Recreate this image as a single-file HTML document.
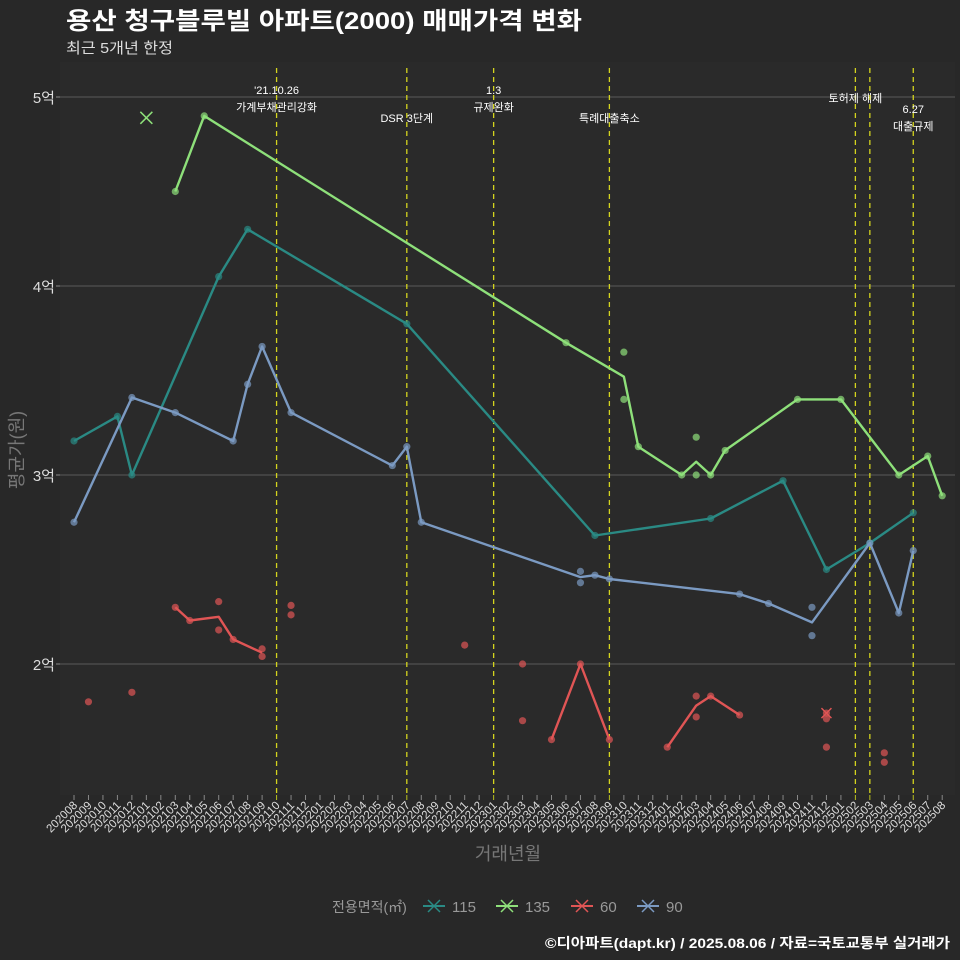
<!DOCTYPE html>
<html><head><meta charset="utf-8">
<style>
html,body{margin:0;padding:0;background:#282828;}
svg{display:block;font-family:"Liberation Sans","Noto Sans CJK KR",sans-serif;}
</style></head>
<body>
<svg id="chart" width="960" height="960" viewBox="0 0 960 960" xmlns="http://www.w3.org/2000/svg">
<rect x="0" y="0" width="960" height="960" fill="#282828"/>
<rect x="60" y="62" width="895" height="733" fill="#2a2a2a"/>
<text x="66" y="29" fill="#ffffff" font-size="24" font-weight="bold" textLength="516" lengthAdjust="spacingAndGlyphs">용산 청구블루빌 아파트(2000) 매매가격 변화</text>
<text x="66" y="53" fill="#dddddd" font-size="15" textLength="107" lengthAdjust="spacingAndGlyphs">최근 5개년 한정</text>
<text transform="translate(23,450) rotate(-90)" text-anchor="middle" fill="#777" font-size="18">평균가(원)</text>
<text x="508" y="860" text-anchor="middle" fill="#777" font-size="18">거래년월</text>
<g id="grid"></g>
<g id="vlines"></g>
<g id="series"></g>
<g id="xaxis"></g>
<g id="legend">
<text x="332" y="912" fill="#999" font-size="14">전용면적(㎡)</text>
</g>
<text x="950" y="948" text-anchor="end" fill="#ffffff" font-size="14" font-weight="bold" textLength="405" lengthAdjust="spacingAndGlyphs">©디아파트(dapt.kr) / 2025.08.06 / 자료=국토교통부 실거래가</text>
</svg>
<script>
// months from 202008 to 202508
const startYear = 2020, startMonth = 8, monthCount = 61;
const yTicks = [2, 3, 4, 5];
const yTickLabels = ['2억', '3억', '4억', '5억'];
const seriesNames = ['115', '135', '60', '90'];
const seriesColors = ['#2a8a84', '#8ee07a', '#e05555', '#7b9ac2'];
// line points [monthIndex, value(억)], null = break
const line115 = [[0,3.18],[3,3.31],[4,3.00],[10,4.05],[12,4.30],[23,3.80],[36,2.68],[44,2.77],[49,2.97],[52,2.50],[55,2.64],[58,2.80]];
const line135 = [[7,4.50],[9,4.90],[34,3.70],[38,3.52],[39,3.15],[42,3.00],[43,3.07],[44,3.00],[45,3.13],[50,3.40],[53,3.40],[57,3.00],[59,3.10],[60,2.89]];
const line60 = [[7,2.30],[8,2.23],[10,2.25],[11,2.13],[13,2.06],null,[33,1.60],[35,2.00],[37,1.60],null,[41,1.56],[43,1.78],[44,1.83],[46,1.73]];
const line90 = [[0,2.75],[4,3.41],[7,3.33],[11,3.18],[12,3.48],[13,3.68],[15,3.33],[22,3.05],[23,3.15],[24,2.75],[35,2.46],[36,2.47],[37,2.45],[46,2.37],[48,2.32],[51,2.22],[55,2.64],[57,2.27],[58,2.60]];
// scatter points (individual trades)
const pts115 = [[0,3.18],[3,3.31],[4,3.00],[10,4.05],[12,4.30],[23,3.80],[36,2.68],[44,2.77],[49,2.97],[52,2.50],[55,2.64],[58,2.80]];
const pts135 = [[7,4.50],[9,4.90],[34,3.70],[38,3.65],[38,3.40],[39,3.15],[42,3.00],[43,3.20],[43,3.00],[44,3.00],[45,3.13],[50,3.40],[53,3.40],[57,3.00],[59,3.10],[60,2.89]];
const pts60 = [[1,1.80],[4,1.85],[7,2.30],[8,2.23],[10,2.33],[10,2.18],[11,2.13],[13,2.08],[13,2.04],[15,2.31],[15,2.26],[27,2.10],[31,2.00],[31,1.70],[33,1.60],[35,2.00],[37,1.60],[41,1.56],[43,1.83],[43,1.72],[44,1.83],[46,1.73],[52,1.74],[52,1.71],[52,1.56],[56,1.53],[56,1.48]];
const pts90 = [[0,2.75],[4,3.41],[7,3.33],[11,3.18],[12,3.48],[13,3.68],[15,3.33],[22,3.05],[23,3.15],[24,2.75],[35,2.49],[35,2.43],[36,2.47],[37,2.45],[46,2.37],[48,2.32],[51,2.30],[51,2.15],[55,2.64],[57,2.27],[58,2.60]];
// X-marker outliers
const xMarks135 = [[5,4.89]];
const xMarks60 = [[52,1.74]];
// policy lines
const policyMonths = [14, 23, 29, 37, 54, 55, 58];
const policyLabels = [["'21.10.26","가계부채관리강화"],["","DSR 3단계"],["1.3","규제완화"],["","특례대출축소"],["토허제 해제",""],["",""],["6.27","대출규제"]];

const NS = 'http://www.w3.org/2000/svg';
function X(i){ return 74 + i * 14.47; }
function Y(v){ return 97 + (5 - v) * 189; }
function mk(tag, attrs, parent){ const e = document.createElementNS(NS, tag); for (const k in attrs) e.setAttribute(k, attrs[k]); parent.appendChild(e); return e; }

const grid = document.getElementById('grid');
yTicks.forEach((t, k) => {
  const l = mk('line', {x1:60, x2:955, y1:Y(t), y2:Y(t), stroke:'#5a5a5a', 'stroke-width':1}, grid);
  
  
  const tk = mk('line', {x1:56, x2:60, y1:Y(t), y2:Y(t), stroke:'#888'}, grid);
  
  
  const tx = mk('text', {x:55, y:Y(t)+6, 'text-anchor':'end', fill:'#dddddd', 'font-size':15}, grid);
  tx.textContent = yTickLabels[k];
  
  
});

const xa = document.getElementById('xaxis');
for (let i = 0; i < monthCount; i++) {
  const m0 = startMonth - 1 + i;
  const lbl = (startYear + Math.floor(m0 / 12)) + String(m0 % 12 + 1).padStart(2, '0');
  const isPolicy = policyMonths.indexOf(i) >= 0;
  const tk = mk('line', {x1:X(i), x2:X(i), y1:795, y2:800, stroke:isPolicy ? '#b8c020' : '#888'}, xa);
  
  
  const tx = mk('text', {x:X(i)+4, y:806, 'text-anchor':'end', fill:'#dddddd', 'font-size':11.5, transform:'rotate(-45 ' + (X(i)+4) + ' 806)'}, xa);
  tx.textContent = lbl;
  
  
}

const vl = document.getElementById('vlines');
policyMonths.forEach((m, k) => {
  const l = mk('line', {x1:X(m), x2:X(m), y1:68, y2:795, stroke:'#d4d41e', 'stroke-width':1.3, 'stroke-dasharray':'5,4'}, vl);
  
  
  const lab = policyLabels[k];
  let y1 = 94, y2 = 111;
  if (!lab[0]) { y2 = 122; }
  if (k === 4) { y1 = 102; }
  if (k === 6) { y1 = 113; y2 = 130; }
  [lab[0], lab[1]].forEach((s, j) => {
    if (!s) return;
    const t = mk('text', {x:X(m), y:j === 0 ? y1 : y2, 'text-anchor':'middle', fill:'#ffffff', 'font-size':11}, vl);
    t.textContent = s;
    
    
  });
});

const sl = document.getElementById('series');
const lines = [line115, line135, line60, line90];
const pts = [pts115, pts135, pts60, pts90];
function xMark(x, y, c, parent, size){
  const d = 'M' + (x-size) + ' ' + (y-size) + 'L' + (x+size) + ' ' + (y+size) + 'M' + (x-size) + ' ' + (y+size) + 'L' + (x+size) + ' ' + (y-size);
  return mk('path', {d:d, stroke:c, 'stroke-width':1.5, fill:'none'}, parent);
}
lines.forEach((arr, s) => {
  const c = seriesColors[s];
  pts[s].forEach(p => {
    const ci = mk('circle', {cx:X(p[0]), cy:Y(p[1]), r:3.6, fill:c, 'fill-opacity':0.7}, sl);
    
    
  });
  let d = '', pen = false;
  arr.forEach(p => {
    if (!p) { pen = false; return; }
    d += (pen ? 'L' : 'M') + X(p[0]).toFixed(1) + ' ' + Y(p[1]).toFixed(1);
    pen = true;
  });
  const path = mk('path', {d:d, stroke:c, 'stroke-width':2.4, fill:'none', 'stroke-linejoin':'round'}, sl);
  
  
});
xMarks135.forEach(p => {
  const e = xMark(X(p[0]), Y(p[1]), seriesColors[1], sl, 6);
  
  
});
xMarks60.forEach(p => {
  const e = xMark(X(p[0]), Y(p[1]), seriesColors[2], sl, 5);
  
  
});

const lg = document.getElementById('legend');
const lx = [424, 497, 572, 638];
seriesNames.forEach((n, s) => {
  const g = mk('g', {}, lg);
  
  
  const cx = lx[s] + 10, cy = 906;
  mk('line', {x1:cx-11, x2:cx+11, y1:cy, y2:cy, stroke:seriesColors[s], 'stroke-width':2}, g);
  xMark(cx, cy, seriesColors[s], g, 6);
  const t = mk('text', {x:cx+18, y:cy+6, fill:'#999', 'font-size':15}, g);
  t.textContent = n;
});
</script>
</body></html>
